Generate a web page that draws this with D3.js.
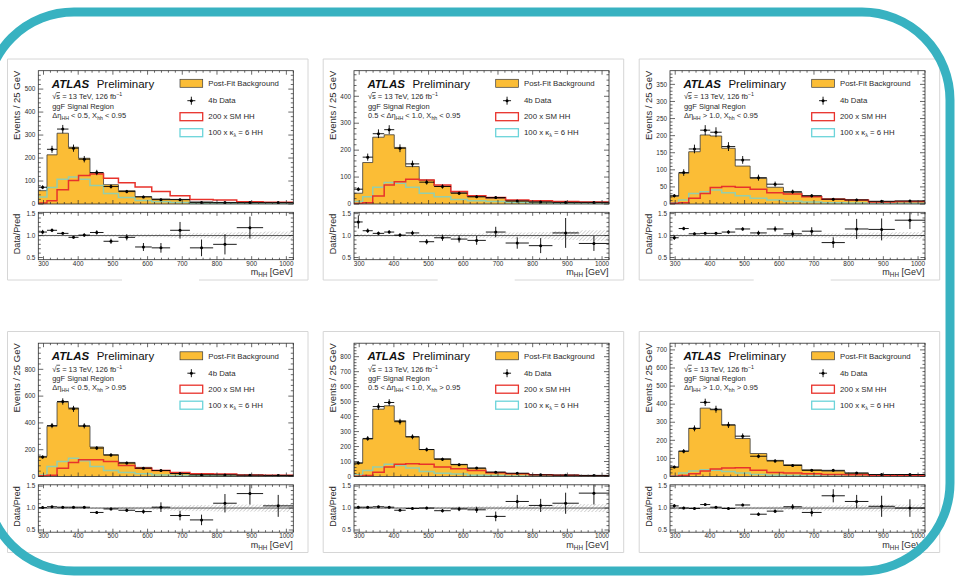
<!DOCTYPE html>
<html><head><meta charset="utf-8">
<script src="https://cdn.jsdelivr.net/npm/d3@7"></script>
<style>
html,body{margin:0;padding:0;background:#fff;}
svg{display:block;font-family:"Liberation Sans",Arial,Helvetica,sans-serif;}
</style></head><body>
<svg id="fig" width="956" height="576"></svg>
<script>
// m_HH binning [GeV], shared by all six signal regions
const binEdges = [285, 310, 339, 372, 401, 434, 473, 516, 564, 612, 665, 722, 789, 857, 933, 1020];
const xTickValues = [300, 400, 500, 600, 700, 800, 900, 1000];
const ratioTicks = [0.5, 1.0, 1.5];

// region selections (Δη_HH range, X_hh cut)
const etaLabels = ["Δη|< 0.5", "0.5 < Δη|< 1.0", "Δη|> 1.0", "Δη|< 0.5", "0.5 < Δη|< 1.0", "Δη|> 1.0"];
const xhhCuts = ["< 0.95", "< 0.95", "< 0.95", "> 0.95", "> 0.95", "> 0.95"];
const yMaxima = [580, 495, 390, 995, 890, 737];
const yMajorSteps = [100, 100, 50, 200, 100, 100];

// Δη < 0.5, X_hh < 0.95
const bkg1 = [58, 214, 308, 247, 199, 134, 84, 58, 32, 22, 20, 9, 7, 6, 5];
const data1 = [73, 238, 326, 243, 195, 137, 76, 54, 31, 19, 19, 7, 6, 6, 6];
const ratio1 = [1.08, 1.12, 1.05, 0.96, 1.01, 1.07, 0.87, 0.96, 0.74, 0.72, 1.12, 0.72, 0.80, 1.18, null];
const ratioErr1 = [0.05, 0.04, 0.03, 0.03, 0.04, 0.05, 0.06, 0.07, 0.09, 0.11, 0.19, 0.19, 0.23, 0.25, 0.3];
const band1 = [0.03, 0.02, 0.02, 0.02, 0.02, 0.02, 0.03, 0.03, 0.04, 0.04, 0.05, 0.06, 0.07, 0.08, 0.09];
const smHH1 = [4, 14, 62, 102, 124, 130, 112, 92, 74, 54, 36, 20, 17, 10, 8];
const k6HH1 = [30, 72, 108, 117, 108, 80, 46, 28, 15, 10, 6, 3, 2, 2, 1];

// 0.5 < Δη < 1.0, X_hh < 0.95
const bkg2 = [40, 154, 248, 257, 210, 139, 89, 67, 42, 27, 21, 12, 9, 7, 6];
const data2 = [55, 174, 261, 276, 207, 149, 81, 65, 40, 27, 24, 11, 7, 6, 6];
const ratio2 = [1.31, 1.11, 1.05, 1.08, 1.01, 1.06, 0.86, 0.95, 0.92, 0.89, 1.08, 0.83, 0.77, 1.06, 0.82];
const ratioErr2 = [0.15, 0.05, 0.04, 0.04, 0.04, 0.05, 0.06, 0.07, 0.08, 0.1, 0.12, 0.13, 0.17, 0.34, 0.17];
const band2 = [0.04, 0.03, 0.02, 0.02, 0.02, 0.03, 0.03, 0.04, 0.05, 0.05, 0.06, 0.07, 0.08, 0.1, 0.12];
const smHH2 = [2, 5, 30, 71, 83, 92, 89, 71, 46, 31, 24, 15, 12, 9, 7];
const k6HH2 = [9, 27, 62, 80, 77, 62, 40, 27, 17, 12, 9, 6, 4, 3, 2];

// Δη > 1.0, X_hh < 0.95
const bkg3 = [23, 90, 153, 202, 199, 163, 111, 75, 49, 34, 24, 15, 11, 7, 7];
const data3 = [24, 92, 161, 216, 210, 168, 129, 77, 58, 36, 24, 14, 12, 8, 9];
const ratio3 = [0.95, 1.16, 1.04, 1.05, 1.05, 1.08, 1.15, 1.06, 1.15, 1.04, 1.10, 0.84, 1.15, 1.14, 1.35];
const ratioErr3 = [0.05, 0.04, 0.03, 0.03, 0.03, 0.04, 0.04, 0.05, 0.06, 0.08, 0.09, 0.12, 0.23, 0.25, 0.2];
const band3 = [0.04, 0.03, 0.02, 0.02, 0.02, 0.02, 0.03, 0.03, 0.03, 0.04, 0.04, 0.05, 0.06, 0.07, 0.08];
const smHH3 = [2, 4, 17, 31, 48, 51, 49, 43, 33, 29, 21, 14, 12, 6, 7];
const k6HH3 = [4, 12, 31, 36, 41, 33, 24, 17, 12, 8, 6, 4, 3, 2, 2];

// Δη < 0.5, X_hh > 0.95
const bkg4 = [150, 375, 555, 512, 375, 220, 162, 105, 68, 45, 25, 18, 13, 10, 8];
const data4 = [145, 380, 560, 505, 378, 212, 160, 100, 62, 45, 22, 12, 12, 10, 8];
const ratio4 = [1.01, 1.03, 1.02, 1.02, 1.02, 0.90, 0.98, 0.95, 0.92, 1.02, 0.83, 0.73, 1.11, 1.33, 1.05];
const ratioErr4 = [0.03, 0.02, 0.02, 0.02, 0.02, 0.03, 0.03, 0.04, 0.05, 0.11, 0.11, 0.12, 0.21, 0.25, 0.25];
const band4 = [0.02, 0.02, 0.02, 0.02, 0.02, 0.02, 0.02, 0.03, 0.03, 0.04, 0.06, 0.07, 0.08, 0.08, 0.09];
const smHH4 = [5, 10, 62, 105, 125, 125, 112, 82, 62, 45, 30, 20, 18, 12, 10];
const k6HH4 = [12, 75, 112, 137, 117, 75, 45, 30, 20, 12, 8, 5, 4, 3, 2];

// 0.5 < Δη < 1.0, X_hh > 0.95
const bkg5 = [90, 250, 450, 472, 373, 265, 180, 119, 81, 56, 29, 20, 13, 9, 7];
const data5 = [90, 254, 467, 494, 366, 265, 180, 115, 79, 56, 29, 22, 11, 9, 7];
const ratio5 = [1.02, 1.02, 1.03, 1.02, 0.95, 0.99, 1.00, 0.94, 0.98, 0.96, 0.81, 1.15, 1.06, 1.11, 1.34];
const ratioErr5 = [0.03, 0.02, 0.02, 0.02, 0.02, 0.03, 0.03, 0.04, 0.05, 0.07, 0.11, 0.15, 0.15, 0.24, 0.26];
const band5 = [0.03, 0.02, 0.02, 0.02, 0.02, 0.02, 0.02, 0.03, 0.03, 0.04, 0.05, 0.06, 0.07, 0.08, 0.09];
const smHH5 = [2, 7, 29, 63, 81, 85, 81, 63, 52, 40, 25, 18, 11, 9, 5];
const k6HH5 = [11, 40, 63, 81, 74, 56, 34, 22, 16, 9, 6, 4, 3, 2, 2];

// Δη > 1.0, X_hh > 0.95
const bkg6 = [52, 140, 266, 378, 369, 285, 210, 127, 89, 65, 37, 30, 19, 9, 11];
const data6 = [52, 140, 266, 410, 372, 285, 223, 112, 86, 61, 34, 34, 19, 11, 11];
const ratio6 = [1.05, 1.00, 0.99, 1.08, 1.02, 0.99, 1.07, 0.86, 0.93, 1.03, 0.90, 1.28, 1.15, 1.04, 1.00];
const ratioErr6 = [0.04, 0.03, 0.02, 0.02, 0.02, 0.02, 0.03, 0.04, 0.04, 0.06, 0.09, 0.15, 0.15, 0.24, 0.2];
const band6 = [0.04, 0.03, 0.02, 0.02, 0.02, 0.02, 0.03, 0.03, 0.04, 0.04, 0.05, 0.06, 0.07, 0.08, 0.08];
const smHH6 = [2, 6, 15, 30, 41, 47, 48, 34, 22, 19, 15, 11, 9, 6, 6];
const k6HH6 = [4, 19, 30, 37, 35, 28, 19, 11, 7, 5, 4, 3, 2, 2, 1];

const regions = [
  {bkg: bkg1, data: data1, ratio: ratio1, rErr: ratioErr1, band: band1, sm: smHH1, k6: k6HH1},
  {bkg: bkg2, data: data2, ratio: ratio2, rErr: ratioErr2, band: band2, sm: smHH2, k6: k6HH2},
  {bkg: bkg3, data: data3, ratio: ratio3, rErr: ratioErr3, band: band3, sm: smHH3, k6: k6HH3},
  {bkg: bkg4, data: data4, ratio: ratio4, rErr: ratioErr4, band: band4, sm: smHH4, k6: k6HH4},
  {bkg: bkg5, data: data5, ratio: ratio5, rErr: ratioErr5, band: band5, sm: smHH5, k6: k6HH5},
  {bkg: bkg6, data: data6, ratio: ratio6, rErr: ratioErr6, band: band6, sm: smHH6, k6: k6HH6}
];
regions.forEach((r, i) => { r.eta = etaLabels[i]; r.xhh = xhhCuts[i]; r.yMax = yMaxima[i]; r.yStep = yMajorSteps[i]; });

// style
const C = {
  bkgFill: "#fbbd36", bkgLine: "#3b3b3b", red: "#e8322b", cyan: "#6cd4da",
  frame: "#2a2a2a", text: "#2b2b2b", panelFrame: "#d6d6d6", teal: "#38b2c1"
};

const svg = d3.select("#fig");
const defs = svg.append("defs");
defs.append("pattern").attr("id", "hatch").attr("patternUnits", "userSpaceOnUse")
  .attr("width", 2.6).attr("height", 2.6).attr("patternTransform", "rotate(45)")
  .append("line").attr("x1", 0).attr("y1", 0).attr("x2", 0).attr("y2", 2.6)
  .attr("stroke", "#8a8a8a").attr("stroke-width", 0.7);

// geometry of one panel (local coordinates)
const G = {L: 38.3, R: 293.3, mT: 70.7, mB: 204, rT: 212.3, rB: 259.7};
const offsets = [[0, 0], [315.7, 0], [631.7, 0], [0, 272.5], [315.7, 272.5], [631.7, 272.5]];

function stepPoints(vals) {
  const pts = [];
  vals.forEach((v, i) => { pts.push([binEdges[i], v]); pts.push([binEdges[i + 1], v]); });
  return pts;
}

function ticksAround(g, x, y, x0, x1, y0, y1, xMaj, xMin, yMaj, yMin, lenMaj, lenMin) {
  const t = g.append("g").attr("stroke", C.frame).attr("stroke-width", 0.7);
  xMaj.forEach(v => {
    t.append("line").attr("x1", x(v)).attr("x2", x(v)).attr("y1", y1).attr("y2", y1 - lenMaj);
    t.append("line").attr("x1", x(v)).attr("x2", x(v)).attr("y1", y0).attr("y2", y0 + lenMaj);
  });
  xMin.forEach(v => {
    t.append("line").attr("x1", x(v)).attr("x2", x(v)).attr("y1", y1).attr("y2", y1 - lenMin);
    t.append("line").attr("x1", x(v)).attr("x2", x(v)).attr("y1", y0).attr("y2", y0 + lenMin);
  });
  yMaj.forEach(v => {
    t.append("line").attr("x1", x0).attr("x2", x0 + lenMaj + 1).attr("y1", y(v)).attr("y2", y(v));
    t.append("line").attr("x1", x1).attr("x2", x1 - lenMaj - 1).attr("y1", y(v)).attr("y2", y(v));
  });
  yMin.forEach(v => {
    t.append("line").attr("x1", x0).attr("x2", x0 + lenMin + 0.5).attr("y1", y(v)).attr("y2", y(v));
    t.append("line").attr("x1", x1).attr("x2", x1 - lenMin - 0.5).attr("y1", y(v)).attr("y2", y(v));
  });
}

function subText(sel, parts, size) {
  // parts: [text, mode] with mode "" | "sub" | "sup"
  let shift = 0;
  parts.forEach(([s, mode]) => {
    const target = mode === "sub" ? 1.8 : mode === "sup" ? -3 : 0;
    sel.append("tspan").attr("dy", target - shift)
      .attr("font-size", mode ? size * 0.7 : size).text(s);
    shift = target;
  });
}

const xMinorVals = d3.range(300, 1021, 20).filter(v => v % 100 !== 0);

regions.forEach((r, idx) => {
  const [ox, oy] = offsets[idx];
  const g = svg.append("g").attr("transform", `translate(${ox},${oy})`);

  // light outer frame of the panel image
  const pf = g.append("g").attr("stroke", C.panelFrame).attr("stroke-width", 1).attr("fill", "none");
  const fy0 = 59, fy1 = 280;
  pf.append("line").attr("x1", 7.5).attr("x2", 308).attr("y1", fy0).attr("y2", fy0);
  pf.append("line").attr("x1", 7.5).attr("x2", 7.5).attr("y1", fy0).attr("y2", fy1);
  pf.append("line").attr("x1", 308).attr("x2", 308).attr("y1", fy0).attr("y2", fy1);
  if (idx < 3) {
    pf.append("line").attr("x1", 7.5).attr("x2", 122).attr("y1", fy1).attr("y2", fy1);
    pf.append("line").attr("x1", 199).attr("x2", 308).attr("y1", fy1).attr("y2", fy1);
  } else {
    pf.append("line").attr("x1", 7.5).attr("x2", 308).attr("y1", fy1).attr("y2", fy1);
  }

  const x = d3.scaleLinear().domain([binEdges[0], binEdges[binEdges.length - 1]]).range([G.L, G.R]);
  const y = d3.scaleLinear().domain([0, r.yMax]).range([G.mB, G.mT]);
  const yr = d3.scaleLinear().domain([0.45, 1.53]).range([G.rB, G.rT]);

  const cm = defs.append("clipPath").attr("id", "cm" + idx);
  cm.append("rect").attr("x", G.L).attr("y", G.mT).attr("width", G.R - G.L).attr("height", G.mB - G.mT);
  const cr = defs.append("clipPath").attr("id", "cr" + idx);
  cr.append("rect").attr("x", G.L).attr("y", G.rT).attr("width", G.R - G.L).attr("height", G.rB - G.rT);

  // ---- main plot ----
  const main = g.append("g").attr("clip-path", `url(#cm${idx})`);
  const bp = stepPoints(r.bkg);
  main.append("path").datum(bp)
    .attr("d", d3.area().x(d => x(d[0])).y0(y(0)).y1(d => y(d[1])))
    .attr("fill", C.bkgFill);
  const outline = [[binEdges[0], 0], ...bp, [binEdges[binEdges.length - 1], 0]];
  const line = d3.line().x(d => x(d[0])).y(d => y(d[1]));
  main.append("path").datum(outline).attr("d", line)
    .attr("fill", "none").attr("stroke", C.bkgLine).attr("stroke-width", 0.8);
  main.append("path").datum(stepPoints(r.k6)).attr("d", line)
    .attr("fill", "none").attr("stroke", C.cyan).attr("stroke-width", 1.5).attr("stroke-opacity", 0.72);
  main.append("path").datum(stepPoints(r.sm)).attr("d", line)
    .attr("fill", "none").attr("stroke", C.red).attr("stroke-width", 1.5);

  const dataG = main.append("g").attr("stroke", "#000").attr("stroke-width", 0.9);
  r.data.forEach((v, i) => {
    const c = (binEdges[i] + binEdges[i + 1]) / 2, e = Math.sqrt(v);
    dataG.append("line").attr("x1", x(binEdges[i])).attr("x2", x(binEdges[i + 1])).attr("y1", y(v)).attr("y2", y(v));
    dataG.append("line").attr("x1", x(c)).attr("x2", x(c)).attr("y1", y(v - e)).attr("y2", y(v + e));
    dataG.append("circle").attr("cx", x(c)).attr("cy", y(v)).attr("r", 1.5).attr("fill", "#000").attr("stroke", "none");
  });

  g.append("rect").attr("x", G.L).attr("y", G.mT).attr("width", G.R - G.L).attr("height", G.mB - G.mT)
    .attr("fill", "none").attr("stroke", C.frame).attr("stroke-width", 0.8);
  const yMaj = d3.range(0, r.yMax + 0.1, r.yStep);
  const yMin = d3.range(0, r.yMax, r.yStep / 5).filter(v => Math.abs(v / r.yStep - Math.round(v / r.yStep)) > 1e-6);
  ticksAround(g, x, y, G.L, G.R, G.mT, G.mB, xTickValues, xMinorVals, yMaj, yMin, 4, 2);

  g.append("g").selectAll("text").data(yMaj).join("text")
    .attr("x", G.L - 3).attr("y", d => y(d)).attr("dy", "0.35em")
    .attr("text-anchor", "end").attr("font-size", 6.4).attr("fill", C.text).text(d => d);

  g.append("text").attr("transform", `translate(20,${G.mT}) rotate(-90)`)
    .attr("text-anchor", "end").attr("font-size", 9.5).attr("fill", C.text).text("Events / 25 GeV");

  // ATLAS label and region description
  const tx = G.L + 13.4;
  const atl = g.append("text").attr("x", tx).attr("y", G.mT + 16.8).attr("font-size", 11.5).attr("fill", "#111");
  atl.append("tspan").attr("font-weight", "bold").attr("font-style", "italic").text("ATLAS");
  atl.append("tspan").attr("x", tx + 45).text("Preliminary");

  const l1 = g.append("text").attr("x", tx + 0.5).attr("y", G.mT + 28.6).attr("font-size", 7.5).attr("fill", C.text);
  l1.append("tspan").text("√");
  l1.append("tspan").style("text-decoration", "overline").text("s");
  l1.append("tspan").text(" = 13 TeV, 126 fb");
  l1.append("tspan").attr("dy", -3).attr("font-size", 5.3).text("−1");

  g.append("text").attr("x", tx + 0.5).attr("y", G.mT + 37.8).attr("font-size", 7.5).attr("fill", C.text).text("ggF Signal Region");

  const l3 = g.append("text").attr("x", tx + 0.5).attr("y", G.mT + 47.2).attr("fill", C.text).attr("font-size", 7.5);
  const [pre, post] = r.eta.split("|");
  subText(l3, [[pre, ""], ["HH", "sub"], [" " + post + ", X", ""], ["hh", "sub"], [" " + r.xhh, ""]], 7.5);

  // legend
  const lg = g.append("g").attr("font-size", 7.8).attr("fill", C.text);
  const bx = G.L + 141.7, bw = 22.7, bh = 8, tx2 = G.L + 170;
  const rows = [G.mT + 12.6, G.mT + 30, G.mT + 46, G.mT + 62];
  lg.append("rect").attr("x", bx).attr("y", rows[0] - bh / 2).attr("width", bw).attr("height", bh)
    .attr("fill", C.bkgFill).attr("stroke", C.bkgLine).attr("stroke-width", 0.7);
  const mx = bx + bw / 2;
  lg.append("line").attr("x1", mx - 4).attr("x2", mx + 4).attr("y1", rows[1]).attr("y2", rows[1]).attr("stroke", "#000").attr("stroke-width", 0.9);
  lg.append("line").attr("x1", mx).attr("x2", mx).attr("y1", rows[1] - 4).attr("y2", rows[1] + 4).attr("stroke", "#000").attr("stroke-width", 0.9);
  lg.append("circle").attr("cx", mx).attr("cy", rows[1]).attr("r", 1.5).attr("fill", "#000");
  lg.append("rect").attr("x", bx).attr("y", rows[2] - bh / 2).attr("width", bw).attr("height", bh)
    .attr("fill", "#fff").attr("stroke", C.red).attr("stroke-width", 1.3);
  lg.append("rect").attr("x", bx).attr("y", rows[3] - bh / 2).attr("width", bw).attr("height", bh)
    .attr("fill", "#fff").attr("stroke", C.cyan).attr("stroke-width", 1.3);
  lg.append("text").attr("x", tx2).attr("y", rows[0]).attr("dy", "0.35em").text("Post-Fit Background");
  lg.append("text").attr("x", tx2).attr("y", rows[1]).attr("dy", "0.35em").text("4b Data");
  lg.append("text").attr("x", tx2).attr("y", rows[2]).attr("dy", "0.35em").text("200 x SM HH");
  const kt = lg.append("text").attr("x", tx2).attr("y", rows[3] + 2.7);
  subText(kt, [["100 x κ", ""], ["λ", "sub"], [" = 6 HH", ""]], 7.8);

  // ---- ratio plot ----
  const rat = g.append("g").attr("clip-path", `url(#cr${idx})`);
  r.band.forEach((b, i) => {
    rat.append("rect").attr("x", x(binEdges[i])).attr("width", x(binEdges[i + 1]) - x(binEdges[i]))
      .attr("y", yr(1 + b)).attr("height", yr(1 - b) - yr(1 + b)).attr("fill", "url(#hatch)");
  });
  rat.append("line").attr("x1", G.L).attr("x2", G.R).attr("y1", yr(1)).attr("y2", yr(1))
    .attr("stroke", "#444").attr("stroke-width", 0.9);
  const rg = rat.append("g").attr("stroke", "#000").attr("stroke-width", 0.9);
  r.ratio.forEach((v, i) => {
    if (v === null) return;
    const c = (binEdges[i] + binEdges[i + 1]) / 2, e = r.rErr[i];
    rg.append("line").attr("x1", x(binEdges[i])).attr("x2", x(binEdges[i + 1])).attr("y1", yr(v)).attr("y2", yr(v));
    rg.append("line").attr("x1", x(c)).attr("x2", x(c)).attr("y1", yr(v - e)).attr("y2", yr(v + e));
    rg.append("circle").attr("cx", x(c)).attr("cy", yr(v)).attr("r", 1.5).attr("fill", "#000").attr("stroke", "none");
  });
  g.append("rect").attr("x", G.L).attr("y", G.rT).attr("width", G.R - G.L).attr("height", G.rB - G.rT)
    .attr("fill", "none").attr("stroke", C.frame).attr("stroke-width", 0.8);
  const rMin = d3.range(0.5, 1.51, 0.1).filter(v => Math.abs(v * 2 - Math.round(v * 2)) > 1e-6);
  ticksAround(g, x, yr, G.L, G.R, G.rT, G.rB, xTickValues, xMinorVals, ratioTicks, rMin, 3.5, 2);

  g.append("g").selectAll("text").data(ratioTicks).join("text")
    .attr("x", G.L - 3).attr("y", d => yr(d)).attr("dy", "0.35em")
    .attr("text-anchor", "end").attr("font-size", 6.4).attr("fill", C.text).text(d => d3.format(".1f")(d));
  g.append("g").selectAll("text").data(xTickValues).join("text")
    .attr("x", d => x(d)).attr("y", G.rB + 6.2)
    .attr("text-anchor", "middle").attr("font-size", 6.4).attr("fill", C.text).text(d => d);

  g.append("text").attr("transform", `translate(20,${(G.rT + G.rB) / 2 - 2}) rotate(-90)`)
    .attr("text-anchor", "middle").attr("font-size", 9).attr("fill", C.text).text("Data/Pred");

  const xl = g.append("text").attr("x", G.R - 0.5).attr("y", G.rB + 15.5).attr("text-anchor", "end")
    .attr("fill", C.text).attr("font-size", 9);
  subText(xl, [["m", ""], ["HH", "sub"], [" [GeV]", ""]], 9);
});

// rounded teal border around the whole figure
svg.append("rect").attr("x", -14).attr("y", 12).attr("width", 964).attr("height", 559)
  .attr("rx", 88).attr("ry", 88).attr("fill", "none").attr("stroke", C.teal).attr("stroke-width", 9);
</script>
</body></html>
